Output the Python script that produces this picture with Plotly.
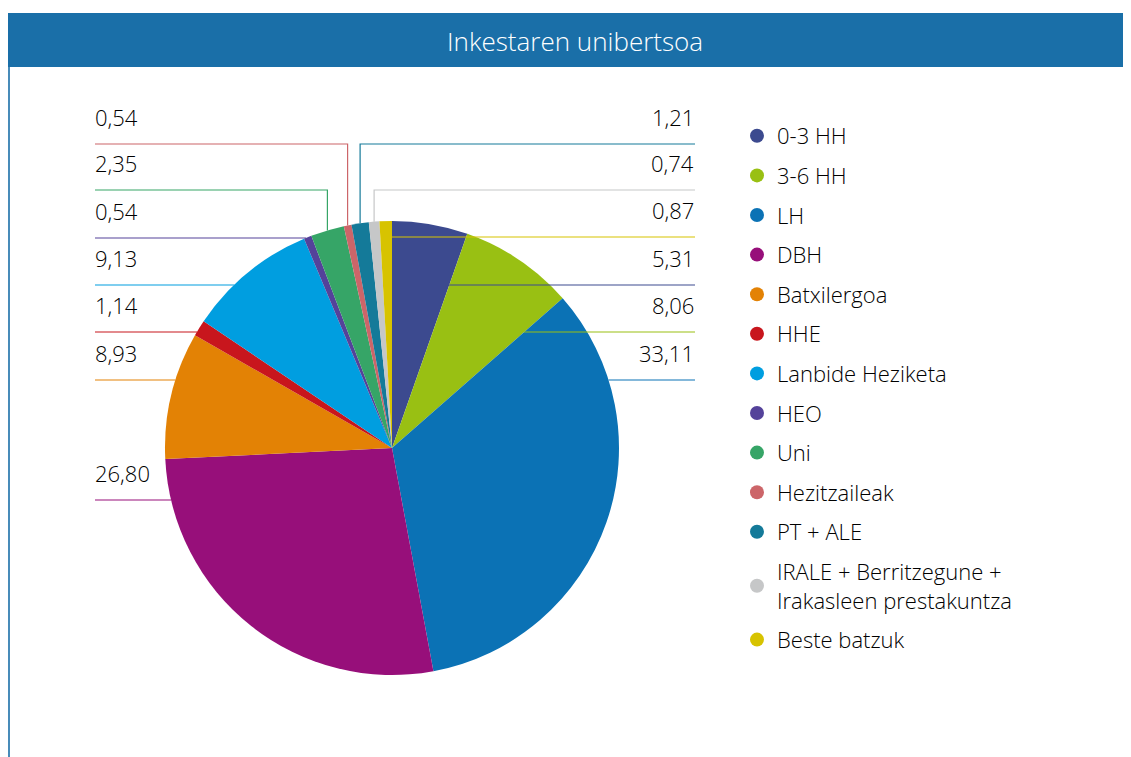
import math
import plotly.graph_objects as go

# ---------------- data ----------------
categories = ["0-3 HH", "3-6 HH", "LH", "DBH", "Batxilergoa", "HHE",
              "Lanbide Heziketa", "HEO", "Uni", "Hezitzaileak", "PT + ALE",
              "IRALE + Berritzegune +<br>Irakasleen prestakuntza", "Beste batzuk"]
values = [5.31, 8.06, 33.11, 26.80, 8.93, 1.14, 9.13, 0.54, 2.35, 0.54, 1.21, 0.74, 0.87]
colors = ["#3c4a8f", "#99c013", "#0b72b5", "#970f7a", "#e38205", "#c8161d",
          "#009ee0", "#54429a", "#36a567", "#cc6569", "#147a99", "#c6c7c8", "#d7c300"]
title_text = "Inkestaren unibertsoa"

# ---------------- layout geometry (screen pixels) ----------------
W, H = 1131, 757
OFF = 8  # page body margin
CX, CY, R = 392, 448, 227
FONT = "Open Sans"
TEXT_COLOR = "#000000"

# label placement: (slice index, side, y of leader line, style)
label_specs = [
    (9, "left", 144, "drop"), (8, "left", 190, "drop"), (7, "left", 238, "edge"),
    (6, "left", 285, "edge"), (5, "left", 332, "edge"), (4, "left", 380, "edge"),
    (3, "left", 500, "edge"),
    (10, "right", 144, "drop"), (11, "right", 190, "drop"), (12, "right", 237, "edge"),
    (0, "right", 285, "edge"), (1, "right", 332, "edge"), (2, "right", 380, "edge"),
]
LEFT_X, RIGHT_X = 95, 695

total = sum(values)
starts, ends = [], []
acc = 0.0
for v in values:
    starts.append(acc / total * 360.0)
    acc += v
    ends.append(acc / total * 360.0)


def ang(px, py):
    return math.degrees(math.atan2(px - CX, CY - py)) % 360.0


def inside_slice(i, px, py):
    if (px - CX) ** 2 + (py - CY) ** 2 > R * R:
        return False
    a = ang(px, py)
    return starts[i] <= a < ends[i] or (ends[i] >= 360 and a >= starts[i])


fig = go.Figure()

fig.add_trace(go.Pie(
    labels=categories, values=values, sort=False, direction="clockwise",
    rotation=0, marker=dict(colors=colors, line=dict(width=0)),
    textinfo="none", showlegend=False, hoverinfo="label+value",
    domain=dict(x=[(CX - R - OFF) / W, (CX + R - OFF) / W],
                y=[(H - (CY - OFF) - R) / H, (H - (CY - OFF) + R) / H]),
))

# legend entries as circle markers
for name, c in zip(categories, colors):
    fig.add_trace(go.Scatter(x=[None], y=[None], mode="markers", name=name,
                             legendgroup=name,
                             marker=dict(symbol="circle", size=14, color=c)))

shapes = []
annotations = []
# header band and frame
shapes.append(dict(type="rect", xref="x", yref="y", x0=8, x1=W + OFF, y0=13, y1=67,
                   fillcolor="#1a6fa8", line=dict(width=0), layer="below"))
shapes.append(dict(type="line", xref="x", yref="y", x0=9, x1=9, y0=13, y1=H + OFF,
                   line=dict(color="#1a6fa8", width=1.6), layer="below"))
annotations.append(dict(xref="x", yref="y", x=575, y=41, text=title_text,
                        showarrow=False,
                        font=dict(family=FONT, size=26, color="white", weight=300)))

for i, side, yl, style in label_specs:
    col = colors[i]
    lx = LEFT_X if side == "left" else RIGHT_X
    if style == "drop":
        mid = math.radians((starts[i] + ends[i]) / 2)
        xm = CX + R * math.sin(mid)
        ye = CY - R * math.cos(mid)
        path = f"M {lx},{yl} L {xm:.1f},{yl} L {xm:.1f},{ye:.1f}"
    else:
        step = 0.5 if side == "left" else -0.5
        x = lx
        xe = CX
        while (x < CX + R + 1) if side == "left" else (x > CX - R - 1):
            if inside_slice(i, x, yl):
                xe = x
                break
            x += step
        path = f"M {lx},{yl} L {xe:.1f},{yl}"
    shapes.append(dict(type="path", xref="x", yref="y", path=path,
                       line=dict(color=col, width=1.2), layer="above"))
    txt = f"{values[i]:.2f}".replace(".", ",")
    annotations.append(dict(xref="x", yref="y",
                            x=lx - 2 if side == "left" else RIGHT_X + 1,
                            y=yl - 27, text=txt, showarrow=False,
                            xanchor="left" if side == "left" else "right",
                            font=dict(family=FONT, size=22, color=TEXT_COLOR, weight=300)))

fig.update_layout(
    width=W, height=H, margin=dict(l=0, r=0, t=0, b=0, pad=0),
    paper_bgcolor="white", plot_bgcolor="white",
    xaxis=dict(range=[OFF, W + OFF], visible=False, fixedrange=True, domain=[0, 1]),
    yaxis=dict(range=[H + OFF, OFF], visible=False, fixedrange=True, domain=[0, 1]),
    shapes=shapes, annotations=annotations,
    showlegend=True,
    legend=dict(x=(737 - OFF) / W, y=1 - (115 - OFF) / H, xanchor="left", yanchor="top",
                font=dict(family=FONT, size=22, color=TEXT_COLOR, weight=300),
                tracegroupgap=8, bgcolor="rgba(0,0,0,0)", itemclick=False),
)

fig.write_html("out.html")
